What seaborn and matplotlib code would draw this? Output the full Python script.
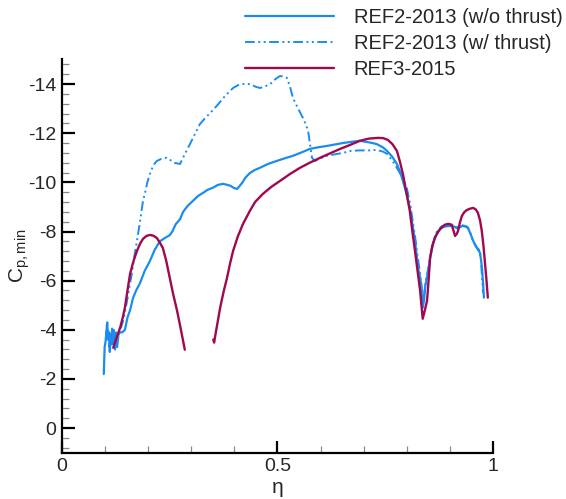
import numpy as np
import pandas as pd
import matplotlib
matplotlib.use("Agg")
import matplotlib.pyplot as plt
from matplotlib.ticker import MultipleLocator
from matplotlib.lines import Line2D
import seaborn as sns

# ---- data ----
eta_wo = [0.097, 0.099, 0.101, 0.103, 0.105, 0.107, 0.109, 0.111, 0.113, 0.115, 0.117, 0.119, 0.121, 0.123,
          0.125, 0.128, 0.131, 0.135, 0.140, 0.146, 0.152, 0.158, 0.165, 0.172, 0.181, 0.192, 0.204, 0.215,
          0.227, 0.240, 0.250, 0.256, 0.264, 0.274, 0.281, 0.292, 0.304, 0.316, 0.327, 0.338, 0.350, 0.362,
          0.374, 0.383, 0.391, 0.398, 0.406, 0.412, 0.418, 0.426, 0.436, 0.447, 0.459, 0.478, 0.498, 0.517,
          0.536, 0.556, 0.575, 0.595, 0.614, 0.633, 0.652, 0.672, 0.691, 0.712, 0.730, 0.745, 0.754, 0.766,
          0.777, 0.785, 0.791, 0.800, 0.807, 0.813, 0.819, 0.823, 0.826, 0.830, 0.833, 0.835, 0.837, 0.840,
          0.843, 0.849, 0.855, 0.861, 0.868, 0.877, 0.888, 0.900, 0.910, 0.919, 0.925, 0.930, 0.936, 0.942,
          0.948, 0.954, 0.962, 0.970, 0.974, 0.977, 0.979]
cp_wo = [-2.2, -3.3, -3.5, -3.9, -4.3, -3.6, -3.9, -3.1, -3.8, -3.5, -4.0, -3.4, -3.9, -3.2,
         -3.7, -3.3, -3.8, -3.9, -3.9, -4.0, -4.5, -4.8, -5.3, -5.6, -5.9, -6.4, -6.8, -7.25,
         -7.6, -7.75, -7.85, -8.0, -8.3, -8.5, -8.8, -9.05, -9.25, -9.45, -9.57, -9.7, -9.78, -9.9,
         -9.94, -9.9, -9.86, -9.78, -9.73, -9.85, -9.98, -10.2, -10.38, -10.5, -10.59, -10.75, -10.87, -10.98,
         -11.08, -11.22, -11.36, -11.43, -11.48, -11.54, -11.6, -11.65, -11.69, -11.63, -11.56, -11.42, -11.28, -11.05,
         -10.75, -10.4, -10.06, -9.5, -8.96, -8.3, -7.62, -7.0, -6.52, -6.2, -5.9, -5.4, -4.9, -5.2,
         -5.8, -6.3, -7.0, -7.5, -7.85, -8.11, -8.2, -8.23, -8.2, -8.11, -8.2, -8.23, -8.2, -8.15,
         -7.9, -7.62, -7.35, -7.13, -6.6, -5.9, -5.31]

eta_w = [0.102, 0.104, 0.106, 0.108, 0.110, 0.112, 0.114, 0.116, 0.118, 0.120, 0.122, 0.125, 0.128, 0.132,
         0.137, 0.142, 0.147, 0.151, 0.157, 0.162, 0.168, 0.174, 0.181, 0.188, 0.193, 0.198, 0.204, 0.212,
         0.220, 0.230, 0.243, 0.252, 0.262, 0.274, 0.285, 0.297, 0.308, 0.320, 0.334, 0.348, 0.361, 0.374,
         0.386, 0.397, 0.408, 0.418, 0.427, 0.436, 0.448, 0.459, 0.471, 0.483, 0.495, 0.506, 0.514, 0.522,
         0.529, 0.536, 0.548, 0.559, 0.566, 0.571, 0.576, 0.580, 0.587, 0.600, 0.614, 0.633, 0.652, 0.670,
         0.691, 0.712, 0.730, 0.745, 0.754, 0.766, 0.777, 0.790, 0.800, 0.808, 0.814, 0.820, 0.825, 0.830,
         0.834, 0.837, 0.840, 0.845, 0.851, 0.857, 0.863, 0.870, 0.880, 0.892, 0.903, 0.915, 0.922, 0.930,
         0.940, 0.946, 0.952, 0.960, 0.968, 0.972, 0.975, 0.977]
cp_w = [-3.6, -4.2, -3.7, -4.0, -3.3, -3.9, -3.4, -4.1, -3.5, -4.0, -3.4, -3.9, -3.6, -4.0,
        -4.1, -4.37, -4.8, -5.18, -5.8, -6.28, -7.0, -7.62, -8.4, -9.25, -9.6, -10.0, -10.34, -10.7,
        -10.87, -10.95, -11.0, -10.9, -10.79, -10.75, -11.15, -11.56, -11.95, -12.37, -12.65, -12.9, -13.15, -13.43,
        -13.65, -13.84, -13.95, -14.0, -14.0, -14.0, -13.9, -13.84, -13.9, -14.0, -14.2, -14.33, -14.3, -14.25,
        -13.9, -13.43, -13.0, -12.62, -12.35, -12.09, -11.5, -11.0, -10.87, -10.98, -11.08, -11.14, -11.2, -11.28,
        -11.3, -11.3, -11.32, -11.25, -11.16, -10.9, -10.59, -10.2, -9.78, -9.1, -8.4, -7.7, -7.0, -6.4,
        -5.8, -5.1, -5.4, -6.1, -6.6, -7.2, -7.7, -8.0, -8.2, -8.28, -8.3, -8.2, -8.15, -8.25,
        -8.2, -8.0, -7.7, -7.4, -7.25, -6.9, -6.0, -5.5]

eta_r3a = [0.119, 0.127, 0.135, 0.141, 0.146, 0.152, 0.158, 0.166, 0.174, 0.181, 0.188, 0.196, 0.204, 0.212,
           0.220, 0.227, 0.234, 0.242, 0.250, 0.258, 0.267, 0.276, 0.285]
cp_r3a = [-3.27, -3.7, -4.09, -4.5, -4.9, -5.6, -6.28, -6.8, -7.21, -7.5, -7.7, -7.82, -7.86, -7.83,
          -7.74, -7.55, -7.33, -6.8, -6.12, -5.45, -4.78, -4.0, -3.19]

eta_r3b = [0.351, 0.353, 0.356, 0.360, 0.367, 0.375, 0.383, 0.390, 0.397, 0.408, 0.420, 0.436, 0.448, 0.466,
           0.486, 0.506, 0.529, 0.552, 0.575, 0.599, 0.622, 0.645, 0.668, 0.691, 0.712, 0.733, 0.745,
           0.756, 0.767, 0.777, 0.784, 0.791, 0.799, 0.807, 0.813, 0.819, 0.825, 0.831, 0.834, 0.837,
           0.842, 0.847, 0.851, 0.854, 0.859, 0.865, 0.873, 0.882, 0.889, 0.896, 0.901, 0.905, 0.909,
           0.912, 0.916, 0.919, 0.923, 0.928, 0.934, 0.940, 0.947, 0.954, 0.960, 0.965, 0.970, 0.974,
           0.978, 0.981, 0.985, 0.988]
cp_r3b = [-3.6, -3.48, -3.8, -4.2, -4.9, -5.55, -6.12, -6.7, -7.21, -7.8, -8.31, -8.84, -9.2, -9.53,
          -9.82, -10.06, -10.34, -10.59, -10.8, -11.0, -11.18, -11.36, -11.52, -11.69, -11.78, -11.81, -11.8,
          -11.73, -11.55, -11.28, -10.85, -10.34, -9.6, -8.84, -8.0, -7.21, -6.4, -5.59, -5.0, -4.45,
          -4.8, -5.18, -6.1, -6.93, -7.4, -7.74, -8.0, -8.19, -8.28, -8.31, -8.3, -8.23, -8.0,
          -7.82, -7.9, -8.03, -8.35, -8.64, -8.8, -8.88, -8.93, -8.96, -8.9, -8.76, -8.45, -8.03,
          -7.4, -6.81, -6.0, -5.31]

labels = ["REF2-2013 (w/o thrust)", "REF2-2013 (w/ thrust)", "REF3-2015"]
x_ticks = [0, 0.5, 1]
x_tick_labels = ["0", "0.5", "1"]
y_ticks = [0, -2, -4, -6, -8, -10, -12, -14]

# ---- style ----
sns.set_style("white")
plt.rcParams["font.family"] = ["Liberation Sans", "DejaVu Sans"]
plt.rcParams["mathtext.fontset"] = "custom"
plt.rcParams["mathtext.rm"] = "Liberation Sans"
plt.rcParams["mathtext.it"] = "Liberation Sans:italic"

blue = "#1a8cf0"
maroon = "#a0084f"
dash_pat = [5, 1.8, 1, 1.8, 1, 1.8]

fig = plt.figure(figsize=(5.66, 4.99), dpi=100)
ax = fig.add_axes([0.1095, 0.0928, 0.7615, 0.788])

df_wo = pd.DataFrame({"eta": eta_wo, "cp": cp_wo})
df_w = pd.DataFrame({"eta": eta_w, "cp": cp_w})
df_a = pd.DataFrame({"eta": eta_r3a, "cp": cp_r3a})
df_b = pd.DataFrame({"eta": eta_r3b, "cp": cp_r3b})

sns.lineplot(data=df_wo, x="eta", y="cp", sort=False, estimator=None, color=blue, lw=1.6, ax=ax)
sns.lineplot(data=df_w, x="eta", y="cp", sort=False, estimator=None, color=blue, lw=1.4, ax=ax)
ax.lines[-1].set_dashes(dash_pat)
sns.lineplot(data=df_a, x="eta", y="cp", sort=False, estimator=None, color=maroon, lw=1.7, ax=ax)
sns.lineplot(data=df_b, x="eta", y="cp", sort=False, estimator=None, color=maroon, lw=1.7, ax=ax)

ax.set_xlim(0, 1)
ax.set_ylim(1, -15)
ax.set_xticks(x_ticks)
ax.set_xticklabels(x_tick_labels)
ax.set_yticks(y_ticks)
ax.set_yticklabels([str(v) for v in y_ticks])
ax.xaxis.set_minor_locator(MultipleLocator(0.1))
ax.yaxis.set_minor_locator(MultipleLocator(0.4))

for s in ["top", "right"]:
    ax.spines[s].set_visible(False)
for s in ["left", "bottom"]:
    ax.spines[s].set_linewidth(1.6)
    ax.spines[s].set_color("black")

ax.tick_params(which="major", direction="in", length=9, width=1.6, color="black",
               labelsize=14, pad=4, left=True, bottom=True)
ax.tick_params(which="minor", direction="in", length=5, width=0.9, color="#888888",
               left=True, bottom=True)

ax.set_xlabel("η", fontsize=15, labelpad=2)
ax.set_ylabel(r"C$_{\mathrm{p,min}}$", fontsize=15, labelpad=-3)

h1 = Line2D([], [], color=blue, lw=1.6)
h2 = Line2D([], [], color=blue, lw=1.4, dashes=dash_pat)
h3 = Line2D([], [], color=maroon, lw=1.7)
fig.legend([h1, h2, h3], labels, loc="upper right", bbox_to_anchor=(1.026, 1.02),
           frameon=False, fontsize=14.5, handlelength=4.4, handletextpad=1.0,
           labelspacing=0.35)

fig.savefig("out.png", dpi=100)
